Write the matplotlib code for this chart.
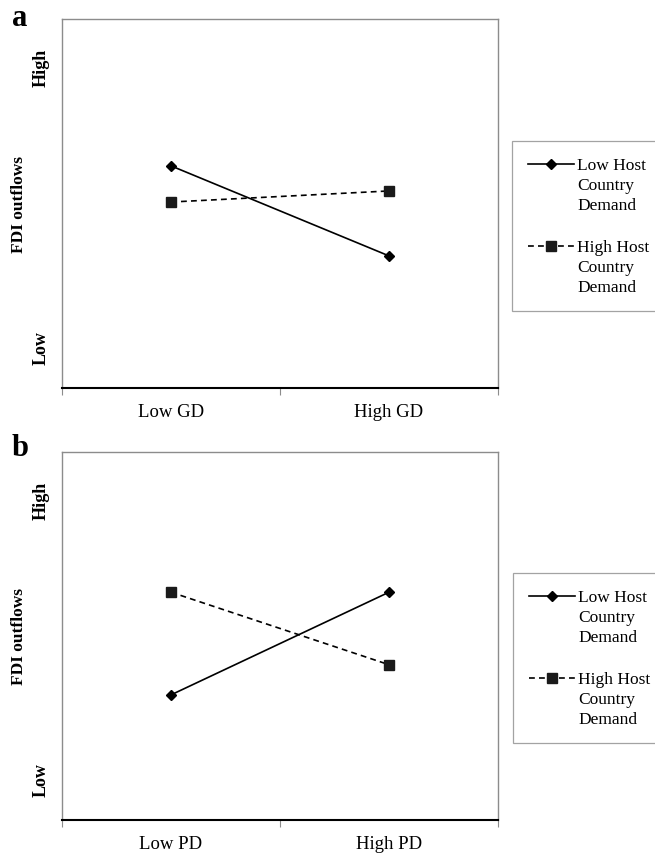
import matplotlib
matplotlib.use("Agg")
import matplotlib.pyplot as plt

plt.rcParams['font.family'] = ['Liberation Serif', 'DejaVu Serif']

# ---- data ----
cat_pos = [0.5, 1.5]
labels_a = ["Low GD", "High GD"]
labels_b = ["Low PD", "High PD"]
series_names = ["Low Host\nCountry\nDemand", "High Host\nCountry\nDemand"]
a_low_host = [0.602, 0.358]
a_high_host = [0.504, 0.534]
b_low_host = [0.340, 0.619]
b_high_host = [0.619, 0.422]
ytick_pos = [0.11, 0.87]
ytick_labels = ["Low", "High"]

fig = plt.figure(figsize=(6.55, 8.54), dpi=100)
W, H = 655, 854

def px_axes(left, top, right, bottom):
    return fig.add_axes([left / W, 1 - bottom / H, (right - left) / W, (bottom - top) / H])

panels = [
    dict(box=(62, 20, 498, 389), xl=labels_a, low=a_low_host, high=a_high_host,
         letter="a", letter_xy=(20, 26), leg=(512, 142)),
    dict(box=(62, 453, 498, 821), xl=labels_b, low=b_low_host, high=b_high_host,
         letter="b", letter_xy=(20, 456), leg=(513, 574)),
]

grey = "#8c8c8c"
for p in panels:
    ax = px_axes(*p["box"])
    ax.plot(cat_pos, p["low"], color="black", lw=1.2, marker="D", ms=5.5,
            mfc="black", mec="black", label=series_names[0])
    ax.plot(cat_pos, p["high"], color="black", lw=1.2, ls=(0, (3.5, 2.5)), marker="s", ms=6.5,
            mfc="#1a1a1a", mec="#1a1a1a", label=series_names[1])
    ax.set_xlim(0, 2)
    ax.set_ylim(0, 1)
    ax.set_xticks([0, 1, 2])
    ax.set_xticklabels([])
    ax.tick_params(axis="x", which="major", length=5, color=grey, width=0.8, direction="out")
    ax.set_xticks(cat_pos, minor=True)
    ax.set_xticklabels(p["xl"], minor=True, fontsize=13.5)
    ax.tick_params(axis="x", which="minor", length=0, pad=11)
    ax.set_yticks(ytick_pos)
    ax.set_yticklabels(ytick_labels, rotation=90, va="center", fontsize=13, fontweight="bold")
    ax.tick_params(axis="y", length=0, pad=9)
    for s in ["left", "top", "right"]:
        ax.spines[s].set_color(grey)
        ax.spines[s].set_linewidth(1.0)
    ax.spines["bottom"].set_color("black")
    ax.spines["bottom"].set_linewidth(1.5)
    ax.set_ylabel("FDI outflows", fontsize=12.5, fontweight="bold", labelpad=4)
    fig.text(p["letter_xy"][0] / W, 1 - p["letter_xy"][1] / H, p["letter"],
             fontsize=22, fontweight="bold", ha="center", va="baseline")
    lx, ly = p["leg"]
    leg = ax.legend(loc="upper left", bbox_to_anchor=(lx / W, 1 - ly / H),
                    bbox_transform=fig.transFigure, borderaxespad=0, borderpad=0.95,
                    fontsize=12.5, frameon=True, fancybox=False, edgecolor=grey,
                    handlelength=2.6, handleheight=1.0, handletextpad=0.2, labelspacing=1.5)
    leg.get_frame().set_linewidth(0.9)
    for t in leg.get_texts():
        t.set_linespacing(1.32)
    # align each handle with the first line of its label
    for col in leg._legend_handle_box.get_children():
        for row in col.get_children():
            row.align = "top"

fig.savefig("out.png", dpi=100)
